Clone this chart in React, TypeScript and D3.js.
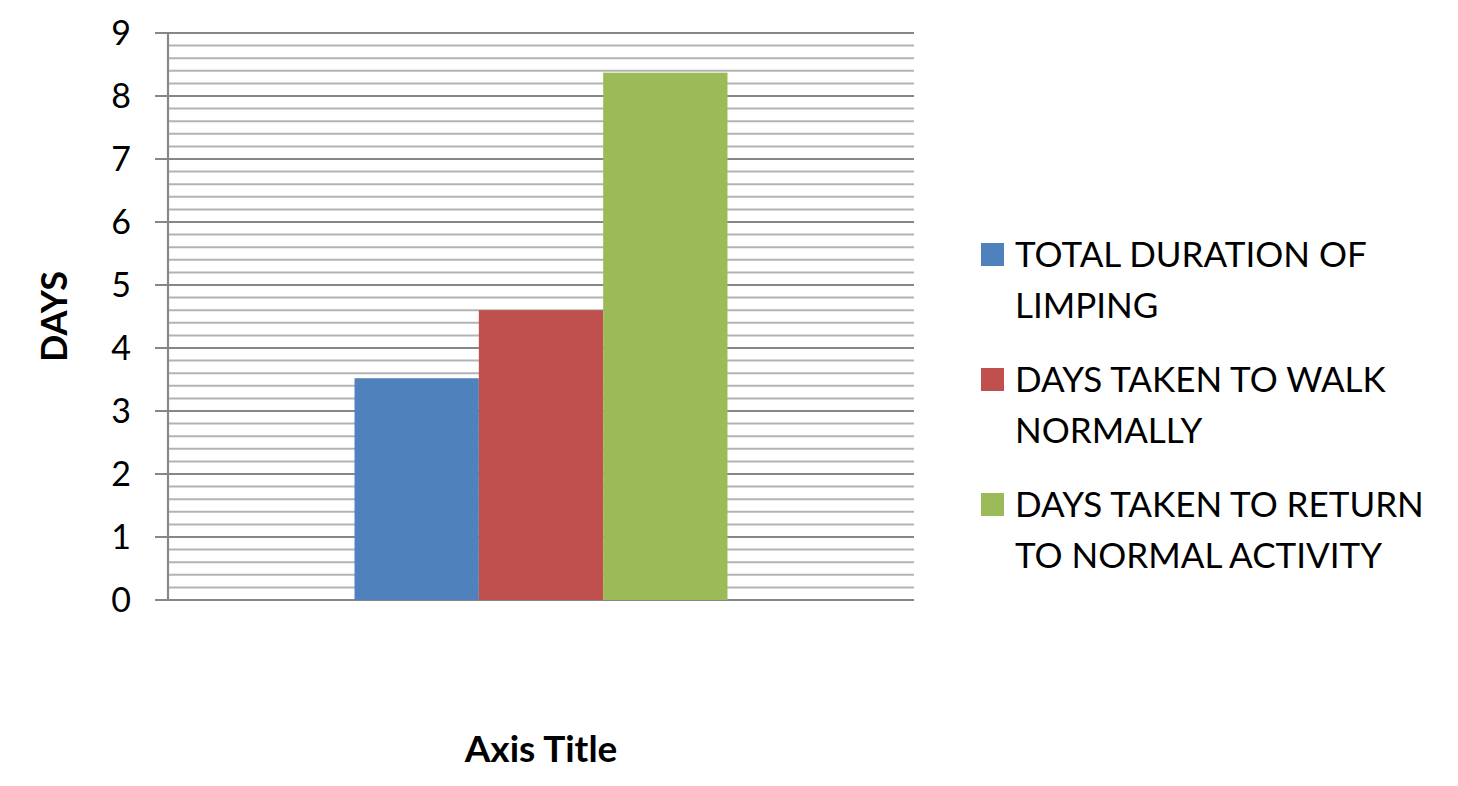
import React from "react";
import * as d3 from "d3";

const categories = ["Group"];
const seriesNames = [
  ["TOTAL DURATION OF", "LIMPING"],
  ["DAYS TAKEN TO WALK", "NORMALLY"],
  ["DAYS TAKEN TO RETURN", "TO NORMAL ACTIVITY"],
];
const seriesValues = [3.52, 4.6, 8.37];
const seriesColors = ["#4f81bd", "#c0504d", "#9bbb59"];
const yTicks = [0, 1, 2, 3, 4, 5, 6, 7, 8, 9];
const yMinorTicks = d3.range(0, 9.0001, 0.2);

export default function App() {
  const W = 1458, H = 786;
  const left = 168, right = 914, top = 33, bottom = 600;
  const y = d3.scaleLinear().domain([0, 9]).range([bottom, top]);
  const x0 = d3.scaleBand().domain(categories).range([left, right]).paddingInner(0).paddingOuter(0);
  const bw = x0.bandwidth();
  const x1 = d3.scaleBand().domain(seriesValues.map((_, i) => String(i))).range([bw / 4, bw * 3 / 4]).padding(0);
  const font = "Lato, 'Open Sans', sans-serif";
  const legendY = [267, 392, 517];
  return (
    <svg width={W} height={H} style={{ position: "absolute", left: 0, top: 0, background: "#fff" }}>
      {yMinorTicks.filter(v => Math.abs(v - Math.round(v)) > 1e-6).map((v, i) => (
        <line key={"m" + i} x1={left} x2={right} y1={y(v)} y2={y(v)} stroke="#b3b3b3" strokeWidth={2} />
      ))}
      {yTicks.map(v => (
        <line key={"g" + v} x1={left - 13} x2={right} y1={y(v)} y2={y(v)} stroke="#878787" strokeWidth={2.2} />
      ))}
      <line x1={left} x2={left} y1={top} y2={bottom} stroke="#878787" strokeWidth={2.2} />
      {categories.map(c => (
        <g key={c} transform={`translate(${x0(c)},0)`}>
          {seriesValues.map((v, i) => (
            <rect key={i} x={x1(String(i))} y={y(v)} width={x1.bandwidth()} height={y(0) - y(v)} fill={seriesColors[i]} />
          ))}
        </g>
      ))}
      {yTicks.map(v => (
        <text key={"t" + v} x={131} y={y(v)} dy="0.36em" textAnchor="end" fontFamily={font} fontSize={34} fill="#000">{v}</text>
      ))}
      <text transform={`translate(67,${(top + bottom) / 2}) rotate(-90)`} textAnchor="middle" fontFamily={font} fontWeight="bold" fontSize={36} fill="#000">DAYS</text>
      <text x={(left + right) / 2} y={762} textAnchor="middle" fontFamily={font} fontWeight="bold" fontSize={37} fill="#000">Axis Title</text>
      {seriesNames.map((lines, i) => (
        <g key={"l" + i}>
          <rect x={981} y={legendY[i] - 24} width={23} height={23} fill={seriesColors[i]} />
          {lines.map((t, j) => (
            <text key={j} x={1015} y={legendY[i] + j * 51} fontFamily={font} fontSize={35} fill="#000">{t}</text>
          ))}
        </g>
      ))}
    </svg>
  );
}
